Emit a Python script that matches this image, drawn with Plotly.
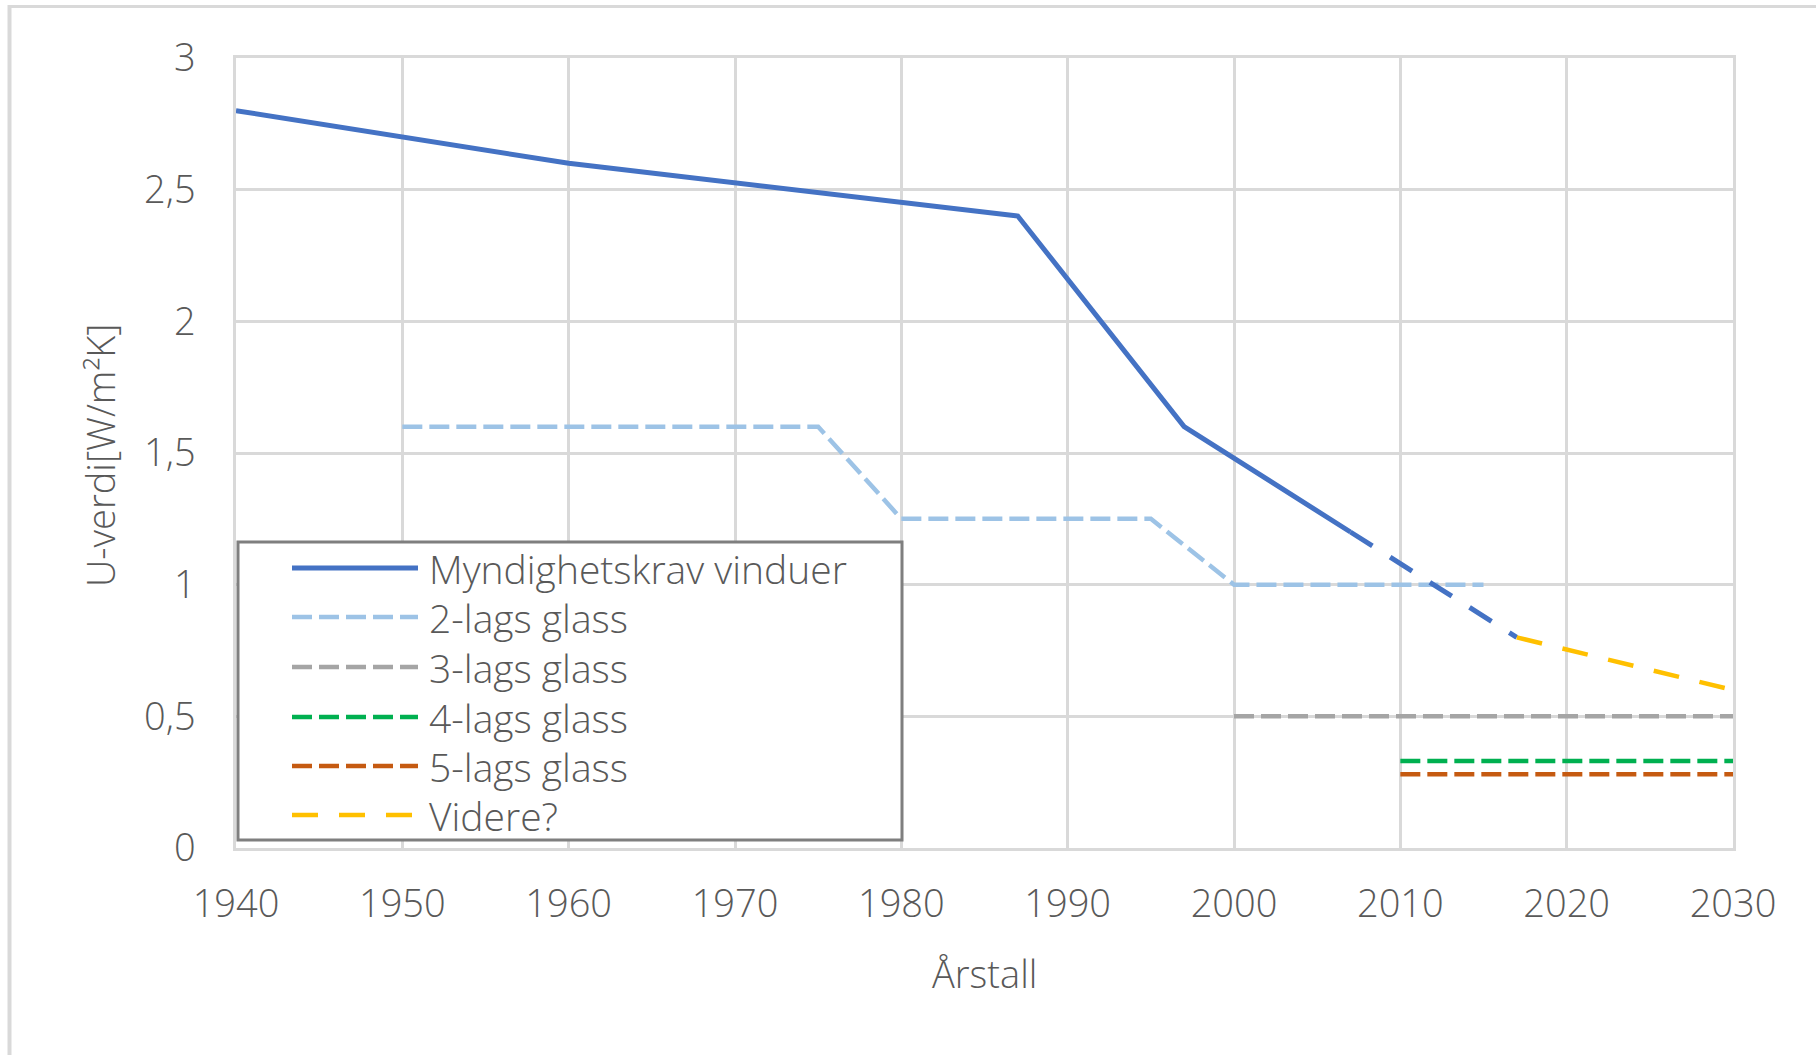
import plotly.graph_objects as go

# ---------------- data ----------------
krav_years = [1940, 1950, 1960, 1987, 1997, 2007]
krav_values = [2.8, 2.7, 2.6, 2.4, 1.6, 1.2]
krav_dash_years = [2007, 2017]
krav_dash_values = [1.2, 0.8]

lag2_years = [1950, 1975, 1980, 1995, 2000, 2015]
lag2_values = [1.6, 1.6, 1.25, 1.25, 1.0, 1.0]

lag3_years = [2000, 2030]
lag3_values = [0.5, 0.5]

lag4_years = [2010, 2030]
lag4_values = [0.33, 0.33]

lag5_years = [2010, 2030]
lag5_values = [0.28, 0.28]

videre_years = [2017, 2030]
videre_values = [0.8, 0.6]

series_names = ["Myndighetskrav vinduer", "2-lags glass", "3-lags glass",
                "4-lags glass", "5-lags glass", "Videre?"]

x_ticks = [1940, 1950, 1960, 1970, 1980, 1990, 2000, 2010, 2020, 2030]
x_tick_labels = ["1940", "1950", "1960", "1970", "1980", "1990", "2000", "2010", "2020", "2030"]
y_ticks = [0, 0.5, 1, 1.5, 2, 2.5, 3]
y_tick_labels = ["0", "0,5", "1", "1,5", "2", "2,5", "3"]

x_title = "Årstall"
y_title = "U-verdi[W/m²K]"

# ---------------- styles ----------------
BLUE = "#4472C4"
LBLUE = "#9DC3E6"
GRAY = "#A5A5A5"
GREEN = "#00B050"
ORANGE = "#C55A11"
YELLOW = "#FFC000"
TXT = "#595959"
GRID = "#D9D9D9"
FONT = "Open Sans"
FW = 350
FS = 38
FS_LEG = 39

W, H = 1816, 1055
L, R, T, B = 236, 83, 58, 207
PW, PH = W - L - R, H - T - B

SYS = "20px,7px"
LDASH = "26px,21px"
LW = 4.5
BW = 5

fig = go.Figure()

fig.add_trace(go.Scatter(x=lag2_years, y=lag2_values, mode="lines", name=series_names[1],
                         line=dict(color=LBLUE, width=LW, dash=SYS)))
fig.add_trace(go.Scatter(x=krav_years, y=krav_values, mode="lines", name=series_names[0],
                         line=dict(color=BLUE, width=BW)))
fig.add_trace(go.Scatter(x=krav_dash_years, y=krav_dash_values, mode="lines", name=series_names[0],
                         line=dict(color=BLUE, width=BW, dash=LDASH)))
fig.add_trace(go.Scatter(x=lag3_years, y=lag3_values, mode="lines", name=series_names[2],
                         line=dict(color=GRAY, width=LW, dash=SYS)))
fig.add_trace(go.Scatter(x=lag4_years, y=lag4_values, mode="lines", name=series_names[3],
                         line=dict(color=GREEN, width=LW, dash=SYS)))
fig.add_trace(go.Scatter(x=lag5_years, y=lag5_values, mode="lines", name=series_names[4],
                         line=dict(color=ORANGE, width=LW, dash=SYS)))
fig.add_trace(go.Scatter(x=videre_years, y=videre_values, mode="lines", name=series_names[5],
                         line=dict(color=YELLOW, width=LW, dash=LDASH)))


def px_x(px):
    return (px - L) / PW


def px_y(py):
    return (H - B - py) / PH


shapes = []
annotations = []

# outer chart border (left + top)
shapes.append(dict(type="line", xref="paper", yref="paper", x0=px_x(8), x1=px_x(1900),
                   y0=px_y(6.5), y1=px_y(6.5), line=dict(color=GRID, width=3), layer="below"))
shapes.append(dict(type="line", xref="paper", yref="paper", x0=px_x(9.5), x1=px_x(9.5),
                   y0=px_y(5), y1=px_y(1100), line=dict(color=GRID, width=4), layer="below"))

# custom legend
shapes.append(dict(type="rect", xref="paper", yref="paper",
                   x0=px_x(238), x1=px_x(902), y0=px_y(840), y1=px_y(542),
                   fillcolor="white", line=dict(color="#7F7F7F", width=3), layer="above"))
legend_styles = [
    (BLUE, "solid"), (LBLUE, SYS), (GRAY, SYS), (GREEN, SYS), (ORANGE, SYS), (YELLOW, LDASH)
]
row_y = [568, 617, 667, 717, 766, 815]
for name, (col, dsh), ry in zip(series_names, legend_styles, row_y):
    shapes.append(dict(type="line", xref="paper", yref="paper",
                       x0=px_x(292), x1=px_x(418), y0=px_y(ry), y1=px_y(ry),
                       line=dict(color=col, width=BW if dsh == "solid" else LW, dash=dsh),
                       layer="above"))
    annotations.append(dict(text=name, xref="paper", yref="paper", x=px_x(427), y=px_y(ry),
                            xanchor="left", yanchor="middle", showarrow=False,
                            font=dict(family=FONT, size=FS_LEG, color=TXT, weight=FW)))

# axis titles
annotations.append(dict(text=x_title, xref="paper", yref="paper", x=0.5, y=px_y(973),
                        xanchor="center", yanchor="middle", showarrow=False,
                        font=dict(family=FONT, size=FS, color=TXT, weight=FW)))
annotations.append(dict(text=y_title, xref="paper", yref="paper", x=px_x(100), y=px_y(456),
                        xanchor="center", yanchor="middle", showarrow=False, textangle=-90,
                        font=dict(family=FONT, size=FS, color=TXT, weight=FW)))

fig.update_layout(
    width=W, height=H,
    margin=dict(l=L, r=R, t=T, b=B, autoexpand=False),
    paper_bgcolor="white", plot_bgcolor="white",
    showlegend=False,
    shapes=shapes, annotations=annotations,
    font=dict(family=FONT, size=FS, color=TXT, weight=FW),
)
fig.update_xaxes(range=[1940, 2030], tickvals=x_ticks, ticktext=x_tick_labels,
                 showgrid=True, gridcolor=GRID, gridwidth=2.5,
                 showline=True, linecolor=GRID, linewidth=3, mirror=True,
                 zeroline=False, ticks="", ticklabelstandoff=20,
                 tickfont=dict(family=FONT, size=FS, color=TXT, weight=FW), automargin=False)
fig.update_yaxes(range=[0, 3], tickvals=y_ticks, ticktext=y_tick_labels,
                 showgrid=True, gridcolor=GRID, gridwidth=2.5,
                 showline=True, linecolor=GRID, linewidth=2.5, mirror=True,
                 zeroline=False, ticks="", ticklabelstandoff=30,
                 tickfont=dict(family=FONT, size=FS, color=TXT, weight=FW), automargin=False)

fig.write_html("out.html", config={"displayModeBar": False},
               post_script="document.body.style.margin='0';")
